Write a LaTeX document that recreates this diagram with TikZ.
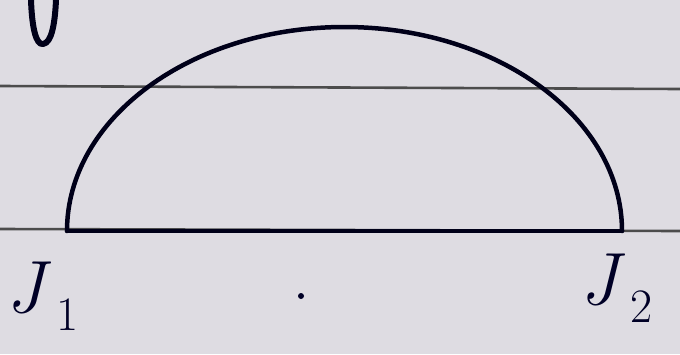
\documentclass[tikz,border=0pt]{standalone}
\usepackage{fontspec}
\newcommand{\jsub}[1]{{\itshape J}\kern12pt\raisebox{-18pt}{\fontsize{48}{48}\selectfont #1}}
\begin{document}
\begin{tikzpicture}[x=1pt,y=-1pt,
  ink/.style={draw=black!90!blue,line width=4.5pt,line cap=round,line join=round},
  ruled/.style={draw=black!70,line width=2.6pt},
  lbl/.style={text=black!85!blue,inner sep=0pt,font=\fontsize{74}{74}\selectfont}]
\fill[fill={rgb,255:red,222;green,220;blue,226}] (0,0) rectangle (680,354);
\useasboundingbox (0,0) rectangle (680,354);
% notebook ruled lines
\coordinate (r1l) at (0,86);
\coordinate (r1r) at (680,89);
\draw[ruled] (r1l) -- (r1r);
\coordinate (r2l) at (0,229);
\coordinate (r2r) at (680,231);
\draw[ruled] (r2l) -- (r2r);
% diameter and semicircle
\coordinate (A) at (67,231);
\coordinate (B) at (622,231);
\draw[ink] (A) -- (B);
\draw[ink] (A) arc[start angle=180,end angle=0,x radius=277.5pt,y radius=204pt];
% stray mark top-left
\coordinate (m1) at (31,0);
\draw[ink,line width=6pt] (m1) .. controls (32,28) and (36,45) .. (43,44) .. controls (52,43) and (55,22) .. (56,0);
% dot
\coordinate (dot) at (301,296);
\fill[black!85!blue] (dot) circle (3pt);
% labels
\node[lbl,anchor=north west] (j1) at (6,262) {\jsub{1}};
\node[lbl,anchor=north west] (j2) at (580,254) {\jsub{2}};
\end{tikzpicture}
\end{document}
